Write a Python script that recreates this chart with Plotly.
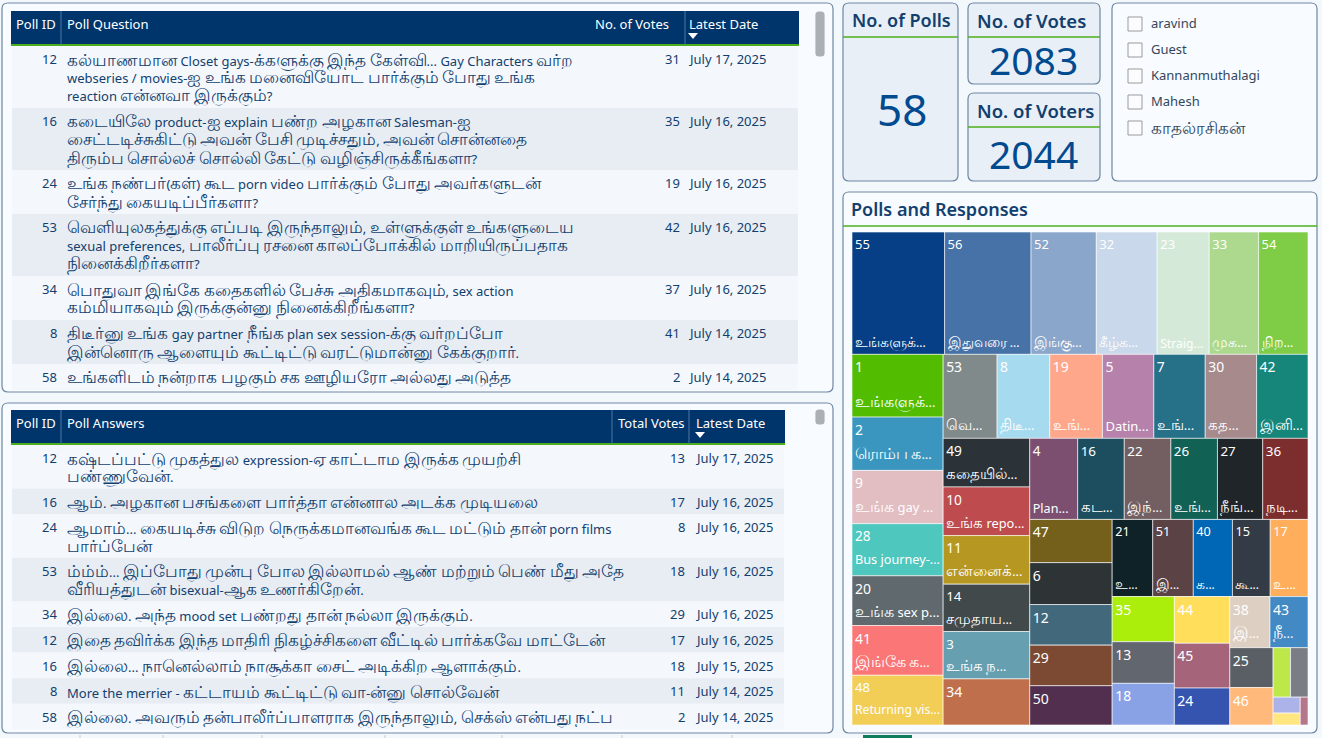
import re
import plotly.graph_objects as go

W, H = 1322, 738
FONT = "Noto Sans"
NAVY = "#00356B"
GREEN = "#4BAF1C"
TEXT = "#12406E"

# top table
q_ids = [12, 16, 24, 53, 34, 8, 58]
q_text = [
    "கல்யாணமான Closet gays-க்களுக்கு இந்த கேள்வி... Gay Characters வர்ற<br>webseries / movies-ஐ உங்க மனைவியோட பார்க்கும் போது உங்க<br>reaction என்னவா இருக்கும்?",
    "கடையிலே product-ஐ explain பண்ற அழகான Salesman-ஐ<br>சைட்டடிச்சுகிட்டு அவன் பேசி முடிச்சதும், அவன் சொன்னதை<br>திரும்ப சொல்லச் சொல்லி கேட்டு வழிஞ்சிருக்கீங்களா?",
    "உங்க நண்பர்(கள்) கூட porn video பார்க்கும் போது அவர்களுடன்<br>சேர்ந்து கையடிப்பீர்களா?",
    "வெளியுலகத்துக்கு எப்படி இருந்தாலும், உள்ளுக்குள் உங்களுடைய<br>sexual preferences, பாலீர்ப்பு ரசனை காலப்போக்கில் மாறியிருப்பதாக<br>நினைக்கிறீர்களா?",
    "பொதுவா இங்கே கதைகளில் பேச்சு அதிகமாகவும், sex action<br>கம்மியாகவும் இருக்குன்னு நினைக்கிறீங்களா?",
    "திடீர்னு உங்க gay partner நீங்க plan sex session-க்கு வர்றப்போ<br>இன்னொரு ஆளையும் கூட்டிட்டு வரட்டுமான்னு கேக்குறார்.",
    "உங்களிடம் நன்றாக பழகும் சக ஊழியரோ அல்லது அடுத்த",
]
q_votes = [31, 35, 19, 42, 37, 41, 2]
q_dates = ["July 17, 2025", "July 16, 2025", "July 16, 2025", "July 16, 2025",
           "July 16, 2025", "July 14, 2025", "July 14, 2025"]

# bottom table
a_ids = [12, 16, 24, 53, 34, 12, 16, 8, 58]
a_text = [
    "கஷ்டப்பட்டு முகத்துல expression-ஏ காட்டாம இருக்க முயற்சி<br>பண்ணுவேன்.",
    "ஆம். அழகான பசங்களை பார்த்தா என்னால அடக்க முடியலை",
    "ஆமாம்... கையடிச்சு விடுற நெருக்கமானவங்க கூட மட்டும் தான் porn films<br>பார்ப்பேன்",
    "ம்ம்ம்... இப்போது முன்பு போல இல்லாமல் ஆண் மற்றும் பெண் மீது அதே<br>வீரியத்துடன் bisexual-ஆக உணர்கிறேன்.",
    "இல்லை. அந்த mood set பண்றது தான் நல்லா இருக்கும்.",
    "இதை தவிர்க்க இந்த மாதிரி நிகழ்ச்சிகளை வீட்டில் பார்க்கவே மாட்டேன்",
    "இல்லை... நானெல்லாம் நாசூக்கா சைட் அடிக்கிற ஆளாக்கும்.",
    "More the merrier - கட்டாயம் கூட்டிட்டு வா-ன்னு சொல்வேன்",
    "இல்லை. அவரும் தன்பாலீர்ப்பாளராக இருந்தாலும், செக்ஸ் என்பது நட்ப",
]
a_votes = [13, 17, 8, 18, 29, 17, 18, 11, 2]
a_dates = ["July 17, 2025", "July 16, 2025", "July 16, 2025", "July 16, 2025", "July 16, 2025",
           "July 16, 2025", "July 15, 2025", "July 14, 2025", "July 14, 2025"]

# cards and slicer
card_titles = ["No. of Polls", "No. of Votes", "No. of Voters"]
card_values = ["58", "2083", "2044"]
voters = ["aravind", "Guest", "Kannanmuthalagi", "Mahesh", "காதல்ரசிகன்"]

# treemap
poll_ids = [55, 56, 52, 32, 23, 33, 54, 1, 2, 9, 28, 20, 41, 48, 53, 8, 19, 5, 7, 30, 42,
            49, 10, 11, 14, 3, 34, 4, 16, 22, 26, 27, 36, 47, 6, 12, 29, 50, 21, 51, 40, 15, 17,
            35, 13, 18, 44, 45, 24, 38, 43, 25, 46, 37, 31, 39, 57, 58]
poll_votes = [105, 98, 74, 69, 59, 56, 56, 53, 45, 45, 44, 42, 42, 42, 42, 41, 41, 40, 40, 40, 40,
              39, 39, 39, 38, 38, 37, 36, 35, 35, 35, 34, 34, 33, 32, 31, 31, 30, 29, 29, 28, 27, 27,
              26, 24, 24, 24, 23, 19, 19, 18, 16, 15, 8, 8, 4, 3, 2]
poll_short = ["உங்களுக்...", "இதுவரை ...", "இங்கு...", "கீழ்க...", "Straig...", "முக...", "நிற...",
              "உங்களுக்...", "ரொம்ப க...", "உங்க gay ...", "Bus journey-...", "உங்க sex p...", "இங்கே க...",
              "Returning vis...", "வெ...", "திடீ...", "உங்...", "Datin...", "உங்...", "கத...", "இனி...",
              "கதையில்...", "உங்க repo...", "என்னைக்...", "சமுதாய...", "உங்க ந...", "", "Plan...", "கட...",
              "இந்...", "உங்...", "நீங்...", "நடி...", "", "", "", "", "", "உ...", "இ...", "க...", "கூ...", "உ...",
              "", "", "", "", "", "", "இ...", "நீ...", "", "", "", "", "", "", ""]
poll_colors = ["#063F85", "#4672A8", "#8AA6CB", "#C9D8EA", "#D4E9D8", "#ADD98F", "#7FCC47",
               "#52BD00", "#3A96BE", "#E2BDC2", "#4EC7BE", "#60696E", "#FB7676", "#F2CE56",
               "#808A8A", "#A6DAEF", "#FFA78A", "#B682AC", "#267088", "#A68A8C", "#16867A",
               "#2B3338", "#BE4B4E", "#B69722", "#42494B", "#669FB0", "#BF6F4B",
               "#7C4E70", "#1D4E5F", "#735F62", "#116155", "#1F2529", "#7C2E2E",
               "#74601A", "#2E3435", "#42697B", "#7C4932", "#522F4E",
               "#0E2227", "#5A4245", "#0066B6", "#333B47", "#FFAF5B",
               "#ABEE0B", "#62666E", "#89A2E6", "#FFDE5B", "#A56479", "#3554B0",
               "#DDCFC2", "#4389C4", "#5A5F66", "#FFB97B", "#BCE84A", "#7A7D84",
               "#ABB3E9", "#FFE680", "#B5768C"]
# blank 9px lines between the id and the short label, a plain way to push the label down
blank_lines = [8] * 7 + [2] + [1] * 6 + [4] * 7 + [1] * 6 + [4] * 6 + [0] * 5 + [4] * 5 + [1] * 15


def px(x):
    return x / W


def py(y):
    return 1 - y / H


def tamil_size(s, size=16.8):
    # the fallback Tamil font runs small next to the latin one
    return re.sub(r"[\u0B80-\u0BFF]+", lambda m: f'<span style="font-size:{size}px">{m.group()}</span>', s)


def round_box(x0, y0, x1, y1, r=6):
    return (f"M {px(x0 + r)} {py(y0)} L {px(x1 - r)} {py(y0)} Q {px(x1)} {py(y0)} {px(x1)} {py(y0 + r)} "
            f"L {px(x1)} {py(y1 - r)} Q {px(x1)} {py(y1)} {px(x1 - r)} {py(y1)} "
            f"L {px(x0 + r)} {py(y1)} Q {px(x0)} {py(y1)} {px(x0)} {py(y1 - r)} "
            f"L {px(x0)} {py(y0 + r)} Q {px(x0)} {py(y0)} {px(x0 + r)} {py(y0)} Z")


shapes = []
annotations = []


def panel(x0, y0, x1, y1, fill="#F8FBFF", line="#6E87A3", r=6, layer="below"):
    shapes.append(dict(type="path", path=round_box(x0, y0, x1, y1, r), xref="paper", yref="paper",
                       fillcolor=fill, line=dict(color=line, width=1.2), layer=layer))


def box(x0, y0, x1, y1, fill, line_color=None, layer="below"):
    shapes.append(dict(type="rect", xref="paper", yref="paper", x0=px(x0), x1=px(x1), y0=py(y0), y1=py(y1),
                       fillcolor=fill, line=dict(color=line_color or fill, width=1 if line_color else 0), layer=layer))


def hline(x0, x1, y, color=GREEN, width=1.6):
    shapes.append(dict(type="line", xref="paper", yref="paper", x0=px(x0), x1=px(x1), y0=py(y), y1=py(y),
                       line=dict(color=color, width=width)))


def vline(x, y0, y1, color="#4E77A5", width=1):
    shapes.append(dict(type="line", xref="paper", yref="paper", x0=px(x), x1=px(x), y0=py(y0), y1=py(y1),
                       line=dict(color=color, width=width)))


def label(x, y, text, size=13, color=TEXT, anchor="left", weight=None):
    annotations.append(dict(x=px(x), y=py(y), xref="paper", yref="paper", text=text, showarrow=False,
                            xanchor=anchor, yanchor="middle",
                            font=dict(family=FONT, size=size, color=color, weight=weight)))


def poll_table(ids, texts, votes, dates, head, seps, x1, top, bottom, vote_x, date_x, row_pad):
    # go.Table pads wrapped rows far more than the reference, so rows are laid out here
    box(11, top, x1, top + 33, NAVY)
    hline(11, x1, top + 34, width=2.2)
    for s in seps:
        vline(s, top, top + 34)
    label(58, top + 13, head[0], color="white", anchor="right")
    label(65, top + 13, head[1], color="white")
    label(vote_x[0], top + 13, head[2], color="white", anchor="right")
    label(date_x, top + 13, head[3], color="white")
    # sort arrow under the date heading
    shapes.append(dict(type="path", xref="paper", yref="paper", fillcolor="white", line=dict(width=0),
                       path=f"M {px(date_x + 1)} {py(top + 22)} L {px(date_x + 11)} {py(top + 22)} "
                            f"L {px(date_x + 6)} {py(top + 28)} Z"))
    y = top + 35
    for i, pid in enumerate(ids):
        lines = texts[i].split("<br>")
        h = 18 * len(lines) + row_pad
        box(12, y, x1 - 1, min(y + h, bottom), "#F4F8FD" if i % 2 == 0 else "#E8EDF3")
        label(59, y + 13, str(pid), anchor="right")
        for j, line in enumerate(lines):
            label(65, y + 13 + 18 * j, tamil_size(line))
        label(vote_x[1], y + 13, str(votes[i]), anchor="right")
        label(date_x - 1.5, y + 13, dates[i])
        y += h


# panels
panel(2, 3, 833, 392)
panel(2, 403, 833, 733)
panel(843, 3, 958, 181, fill="#E9EFF7")
panel(968, 3, 1100, 84, fill="#E9EFF7")
panel(968, 93, 1100, 181, fill="#E9EFF7")
panel(1112, 3, 1317, 181)
panel(843, 192, 1317, 733)

poll_table(q_ids, q_text, q_votes, q_dates, ["Poll ID", "Poll Question", "No. of Votes", "Latest Date"],
           [61, 685], 799, 11, 391, (671, 682), 687, 8.0)
poll_table(a_ids, a_text, a_votes, a_dates, ["Poll ID", "Poll Answers", "Total Votes", "Latest Date"],
           [61, 612, 689], 785, 410, 732, (687, 687), 694, 7.6)

hline(843, 958, 37)
hline(968, 1100, 37)
hline(968, 1100, 127)
hline(843, 1317, 226)

label(901, 20, card_titles[0], size=18, anchor="center", weight=600)
label(975, 20, card_titles[1], size=18.5, weight=600)
label(975, 110, card_titles[2], size=18.5, weight=600)
label(902, 109, card_values[0], size=44, color="#004A8F", anchor="center")
label(1033.5, 59.5, card_values[1], size=39, color="#004A8F", anchor="center")
label(1033.5, 153.5, card_values[2], size=39, color="#004A8F", anchor="center")
label(849, 209, "Polls and Responses", size=18, weight=600)

for i, name in enumerate(voters):
    y = 24 + i * 26
    box(1128, y - 7, 1142, y + 7, "#FBFCFE", line_color="#9A9A9A")
    label(1149, y - 1, tamil_size(name), color="#33475B")

# scrollbars and bits of the tab strip under the page
panel(816, 12, 824, 56, fill="#ABB0B5", line="#ABB0B5", r=3)
panel(816, 410, 824, 424, fill="#ABB0B5", line="#ABB0B5", r=3)
box(863, 735, 912, 738, "#0F7B5F")
for tick in [80, 163, 262, 385, 502, 622, 732]:
    vline(tick, 735, 738, color="#C8CDD2")

cell_text = []
for pid, short, gap in zip(poll_ids, poll_short, blank_lines):
    id_span = f'<span style="font-size:14px">{pid}</span>'
    if pid in (37, 31, 39, 57, 58):
        cell_text.append("")
    elif short:
        name_span = f'<span style="font-size:13px">{tamil_size(short, 15.5)}</span>'
        cell_text.append(id_span + "<br>" * (gap + 1) + name_span)
    else:
        cell_text.append(id_span)

treemap = go.Treemap(
    labels=[str(p) for p in poll_ids],
    parents=[""] * len(poll_ids),
    values=poll_votes,
    text=cell_text,
    textinfo="text",
    textposition="top left",
    textfont=dict(family=FONT, size=9, color="white"),
    marker=dict(colors=poll_colors, line=dict(color="white", width=0.6), pad=dict(t=0, l=0, r=0, b=0)),
    tiling=dict(packing="squarify", squarifyratio=1.7, pad=0),
    pathbar=dict(visible=False),
    domain=dict(x=[px(852), px(1308)], y=[py(725), py(232)]),
)

fig = go.Figure(data=[treemap])
fig.update_layout(width=W, height=H, margin=dict(l=0, r=0, t=0, b=0), paper_bgcolor="#F3F8FD",
                  shapes=shapes, annotations=annotations, showlegend=False)
fig.write_html("out.html", config={"displayModeBar": False}, post_script="document.body.style.margin='0';")
